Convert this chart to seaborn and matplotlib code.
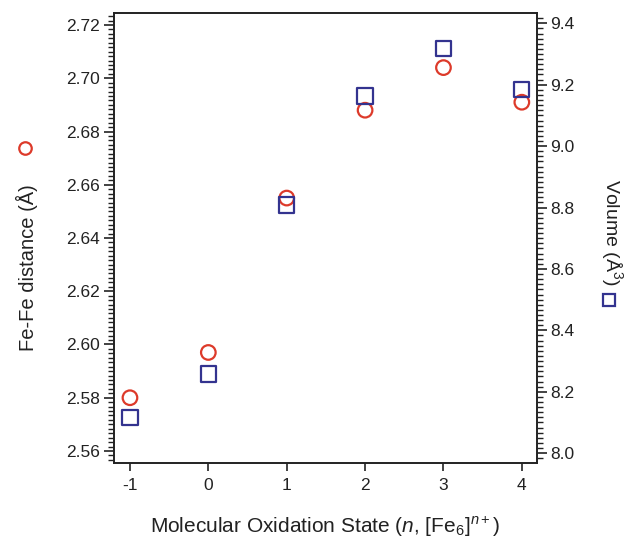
import matplotlib
matplotlib.use("Agg")
import matplotlib.pyplot as plt
import seaborn as sns
import pandas as pd
from matplotlib.ticker import AutoMinorLocator
from matplotlib.lines import Line2D

# ---- data ----
oxidation_state = [-1, 0, 1, 2, 3, 4]
fe_fe_distance = [2.580, 2.597, 2.655, 2.688, 2.704, 2.691]
volume = [8.115, 8.258, 8.808, 9.163, 9.319, 9.185]
x_ticks = [-1, 0, 1, 2, 3, 4]
left_ticks = [2.56, 2.58, 2.60, 2.62, 2.64, 2.66, 2.68, 2.70, 2.72]
right_ticks = [8.0, 8.2, 8.4, 8.6, 8.8, 9.0, 9.2, 9.4]

RED = "#dd3a2a"
BLUE = "#33338f"
INK = "#222222"

sns.set_style("ticks")
plt.rcParams["font.family"] = ["Liberation Sans", "DejaVu Sans"]
plt.rcParams["mathtext.fontset"] = "custom"
plt.rcParams["mathtext.rm"] = "Liberation Sans"
plt.rcParams["mathtext.it"] = "Liberation Sans:italic"

df = pd.DataFrame({"n": oxidation_state, "d": fe_fe_distance, "v": volume})

fig = plt.figure(figsize=(6.29, 5.43), dpi=100)
ax = fig.add_axes([0.1812, 0.1479, 0.6721, 0.8276])
ax2 = ax.twinx()

sns.scatterplot(data=df, x="n", y="d", ax=ax, marker="o", s=110,
                facecolor="none", edgecolor=RED, linewidth=1.6, zorder=3)
sns.scatterplot(data=df, x="n", y="v", ax=ax2, marker="s", s=120,
                facecolor="none", edgecolor=BLUE, linewidth=1.6, zorder=3)

ax.set_xlim(-1.204, 4.19)
ax.set_ylim(2.5556, 2.7244)
ax2.set_ylim(7.969, 9.4326)

ax.set_xticks(x_ticks)
ax.set_xticklabels([str(t) for t in x_ticks])
ax.set_yticks(left_ticks)
ax.set_yticklabels([f"{t:.2f}" for t in left_ticks])
ax2.set_yticks(right_ticks)
ax2.set_yticklabels([f"{t:.1f}" for t in right_ticks])
ax.yaxis.set_minor_locator(AutoMinorLocator(12))
ax2.yaxis.set_minor_locator(AutoMinorLocator(12))

for a in (ax, ax2):
    for sp in a.spines.values():
        sp.set_visible(True)
        sp.set_linewidth(1.2)
        sp.set_color(INK)
    a.set_xlabel("")
    a.set_ylabel("")

ax.tick_params(axis="x", which="major", direction="out", length=6, width=1.2,
               labelsize=12.5, pad=5, colors=INK, top=False)
ax.tick_params(axis="y", which="major", direction="out", length=7, width=1.2,
               labelsize=12.5, pad=3, colors=INK)
ax.tick_params(axis="y", which="minor", direction="out", length=4, width=1.0,
               colors=INK)
ax2.tick_params(axis="y", which="major", direction="out", length=7, width=1.2,
                labelsize=12.5, pad=3, colors=INK)
ax2.tick_params(axis="y", which="minor", direction="out", length=4, width=1.0,
                colors=INK)

fig.text(0.5 * (114 + 536.7) / 629, 1 - 527 / 543,
         r"Molecular Oxidation State ($\mathit{n}$, [Fe$_6$]$^{n+}$)",
         ha="center", va="center", fontsize=15, color=INK)
fig.text(27 / 629, 1 - 268 / 543, "Fe-Fe distance (Å)", rotation=90,
         ha="center", va="center", fontsize=14.5, color=INK)
fig.text(612 / 629, 1 - 232 / 543, "Volume (Å$^3$)", rotation=270,
         ha="center", va="center", fontsize=14, color=INK)

fig.add_artist(Line2D([25 / 629], [1 - 148 / 543], marker="o", markersize=9,
                      markerfacecolor="none", markeredgecolor=RED,
                      markeredgewidth=1.6, linestyle="none",
                      transform=fig.transFigure))
fig.add_artist(Line2D([609 / 629], [1 - 300 / 543], marker="s", markersize=9,
                      markerfacecolor="none", markeredgecolor=BLUE,
                      markeredgewidth=1.6, linestyle="none",
                      transform=fig.transFigure))

fig.savefig("out.png", dpi=100)
